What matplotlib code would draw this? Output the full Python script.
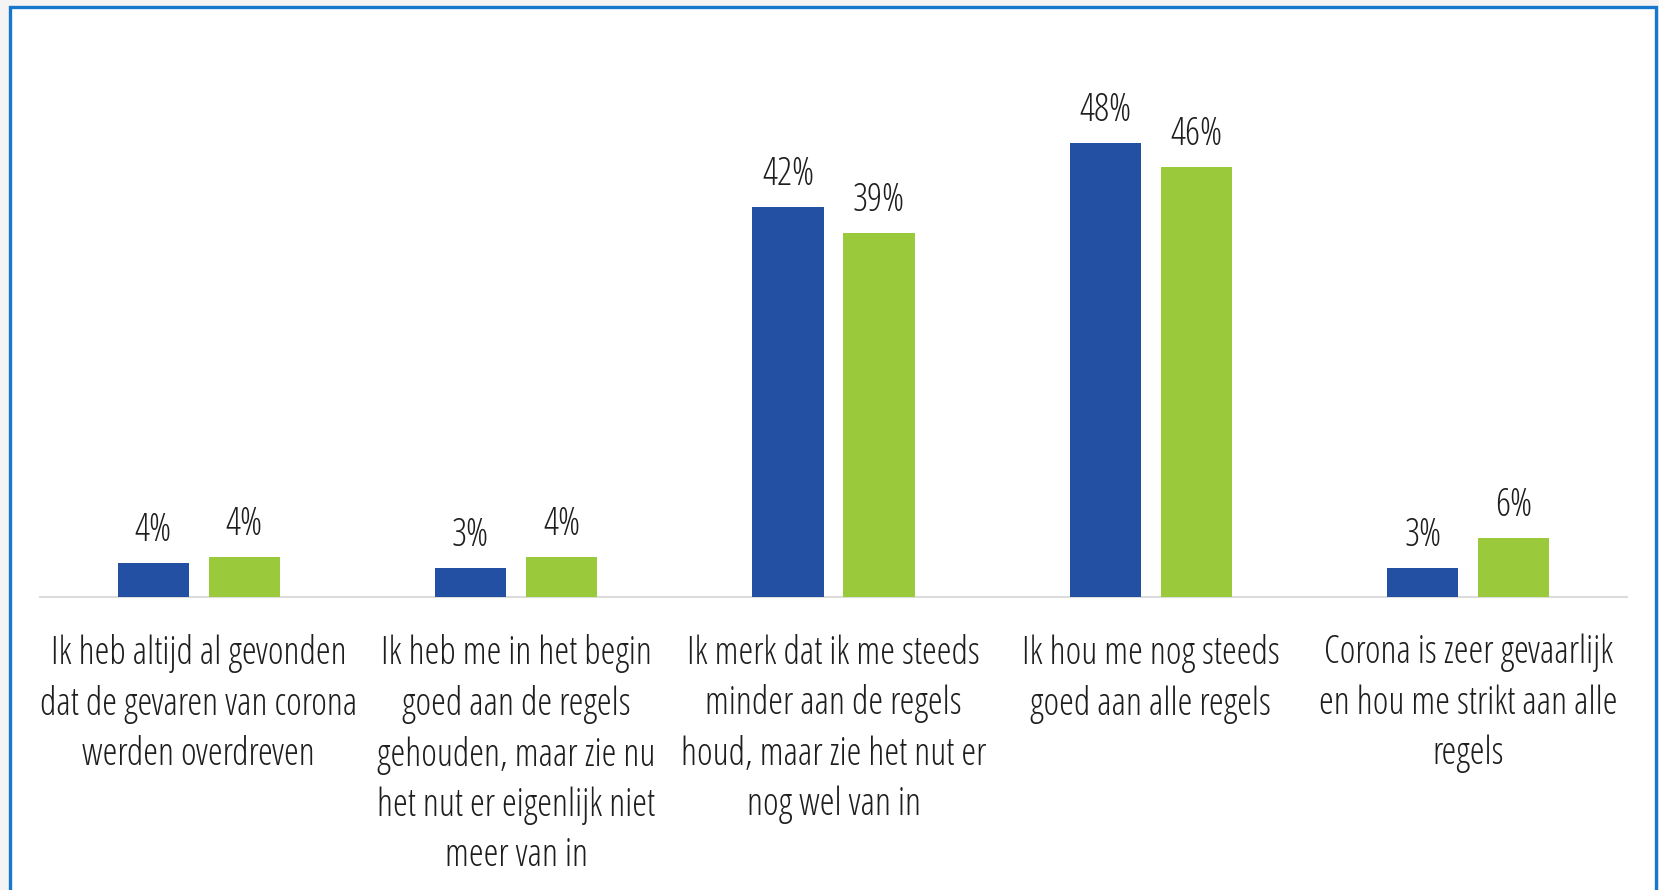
import matplotlib
matplotlib.use("Agg")
import numpy as np
import matplotlib.pyplot as plt
from matplotlib.patches import Rectangle


# ---------- DATA ----------

categories = [
    "Ik heb altijd al gevonden\ndat de gevaren van corona\nwerden overdreven",
    "Ik heb me in het begin\ngoed aan de regels\ngehouden, maar zie nu\nhet nut er eigenlijk niet\nmeer van in",
    "Ik merk dat ik me steeds\nminder aan de regels\nhoud, maar zie het nut er\nnog wel van in",
    "Ik hou me nog steeds\ngoed aan alle regels",
    "Corona is zeer gevaarlijk\nen hou me strikt aan alle\nregels",
]
blue_values = [3.6, 3.0, 41.6, 48.4, 3.0]
green_values = [4.2, 4.2, 38.8, 45.9, 6.2]
blue_labels = ["4%", "3%", "42%", "48%", "3%"]
green_labels = ["4%", "4%", "39%", "46%", "6%"]

BLUE = "#2350a3"
GREEN = "#9bc93c"
TEXT = "#1e1e1e"
FONT = dict(family="Open Sans", weight=300, stretch="condensed")


# ---------- PLOT ----------

fig = plt.figure(figsize=(16.59, 8.90), dpi=100, facecolor="#f4f4f4")

# white panel with blue frame
fig.patches.append(Rectangle((10 / 1659, -0.05), 1646 / 1659, 1.05 - 7 / 890,
                             transform=fig.transFigure, facecolor="white",
                             edgecolor="#1677cc", linewidth=2.4, zorder=-10))

ax = fig.add_axes([40 / 1659, (890 - 596.5) / 890, 1587 / 1659, 561.6 / 890])
ax.set_facecolor("none")

x = np.arange(len(categories))
w = 0.224
off = 0.1434

b1 = ax.bar(x - off, blue_values, w, color=BLUE, zorder=3)
b2 = ax.bar(x + off, green_values, w, color=GREEN, zorder=3)

for bars, labels in [(b1, blue_labels), (b2, green_labels)]:
    for rect, lab in zip(bars, labels):
        ax.annotate(lab, (rect.get_x() + rect.get_width() / 2, rect.get_height()),
                    xytext=(0, 13), textcoords="offset pixels",
                    ha="center", va="bottom", fontsize=27, color=TEXT, **FONT)

ax.set_xlim(-0.5, len(categories) - 0.5)
ax.set_ylim(0, 60)
ax.set_yticks([])
ax.set_xticks(x)
ax.set_xticklabels(categories, fontsize=27, color=TEXT, linespacing=1.395, **FONT)
ax.tick_params(axis="x", length=0, pad=27)

for s in ["top", "left", "right"]:
    ax.spines[s].set_visible(False)
ax.spines["bottom"].set_color("#dcdcdc")
ax.spines["bottom"].set_linewidth(1.5)

fig.savefig("out.png", dpi=100, facecolor=fig.get_facecolor())
